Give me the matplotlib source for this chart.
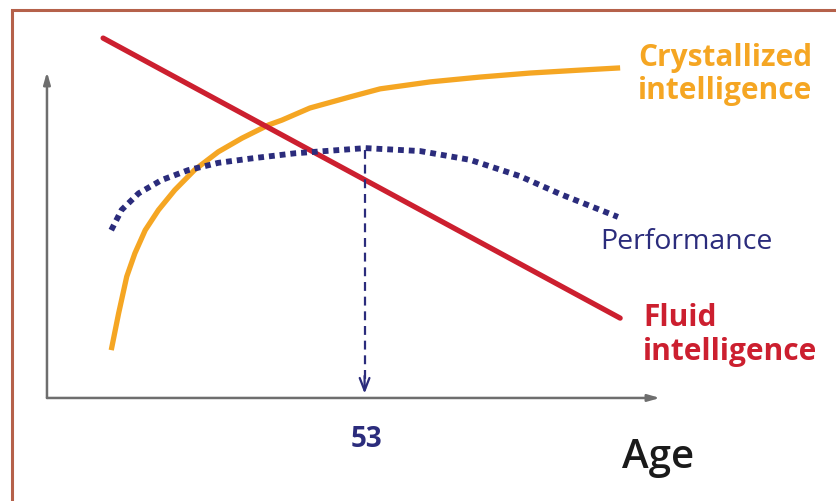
import matplotlib
matplotlib.use('Agg')
import matplotlib.pyplot as plt
from matplotlib.patches import Rectangle

# ── data (age in years, level in arbitrary units 0-100) ─────────────────────
cryst_age = [18.7, 19.7, 20.8, 21.9, 23.3, 25.1, 27.3, 30.0, 33.2, 36.4,
             40.0, 41.8, 45.6, 51.0, 55.1, 61.9, 68.6, 75.4, 82.2, 87.6]
cryst_val = [13.0, 23.0, 33.0, 39.3, 45.6, 51.1, 56.5, 62.0, 66.9, 70.6,
             74.2, 75.5, 78.8, 81.8, 84.0, 85.9, 87.2, 88.3, 89.1, 89.7]

fluid_age = [17.6, 87.6]
fluid_val = [97.8, 21.7]

perf_age = [18.7, 20.1, 22.4, 25.5, 29.1, 33.2, 37.7, 43.6, 53.1, 60.5,
            67.3, 74.0, 79.5, 84.9, 87.3]
perf_val = [45.6, 51.1, 55.6, 59.2, 61.9, 63.9, 65.1, 66.5, 67.9, 67.1,
            64.7, 60.3, 55.4, 51.1, 49.2]

peak_age = 53
peak_val = 67.5

# ── colours ────────────────────────────────────────────────────────────────
ORANGE = '#F5A623'
RED = '#CC1F2F'
NAVY = '#2B2C7C'
AXIS = '#6E6E6E'
FRAME = '#B5614A'

fig = plt.figure(figsize=(8.37, 5.01), dpi=100)
ax = fig.add_axes([0, 0, 1, 1])
ax.set_xlim(3.64, 116.96)
ax.set_ylim(-28.0, 108.15)
ax.axis('off')

# frame (cropped at right and bottom)
fig.patches.append(Rectangle((12 / 837, -0.05), 1.2, 1 - 10 / 501 + 0.05,
                             transform=fig.transFigure, fill=False,
                             edgecolor=FRAME, linewidth=2.2))

# axes with arrows
arrow_kw = dict(arrowstyle='-|>,head_length=0.7,head_width=0.2',
                color=AXIS, lw=1.8, shrinkA=0, shrinkB=0)
ax.annotate('', xy=(10.0, 88.6), xytext=(10.0, 0), arrowprops=arrow_kw)
ax.annotate('', xy=(93.0, 0), xytext=(10.0, 0), arrowprops=arrow_kw)

# curves
ax.plot(cryst_age, cryst_val, color=ORANGE, lw=3.8, solid_capstyle='butt',
        solid_joinstyle='round')
ax.plot(fluid_age, fluid_val, color=RED, lw=3.8, solid_capstyle='round')
ax.plot(perf_age, perf_val, color=NAVY, lw=4.2, linestyle=(0, (1, 0.85)),
        dash_capstyle='butt')

# peak marker
ax.plot([peak_age, peak_age], [peak_val, 2.5], color=NAVY, lw=1.6,
        linestyle=(0, (4, 2.6)))
ax.annotate('', xy=(peak_age, 1.2), xytext=(peak_age, 6),
            arrowprops=dict(arrowstyle='->,head_length=0.9,head_width=0.35',
                            color=NAVY, lw=1.6, shrinkA=0, shrinkB=0))

# labels
font = 'Open Sans'
ax.text(90.0, 92.4, 'Crystallized', color=ORANGE, fontsize=21.5,
        fontweight='bold', family=font, va='center', ha='left')
ax.text(90.0, 83.3, 'intelligence', color=ORANGE, fontsize=21.5,
        fontweight='bold', family=font, va='center', ha='left')
ax.text(84.9, 42.4, 'Performance', color=NAVY, fontsize=20.5,
        family=font, va='center', ha='left')
ax.text(90.7, 21.7, 'Fluid', color=RED, fontsize=21.5,
        fontweight='bold', family=font, va='center', ha='left')
ax.text(90.7, 12.5, 'intelligence', color=RED, fontsize=21.5,
        fontweight='bold', family=font, va='center', ha='left')
ax.text(53.3, -11.4, str(peak_age), color=NAVY, fontsize=20,
        fontweight='bold', family=font, va='center', ha='center')
ax.text(87.9, -16.3, 'Age', color='#1a1a1a', fontsize=29,
        fontweight='semibold', family=font, va='center', ha='left')

fig.savefig('out.png', dpi=100)
